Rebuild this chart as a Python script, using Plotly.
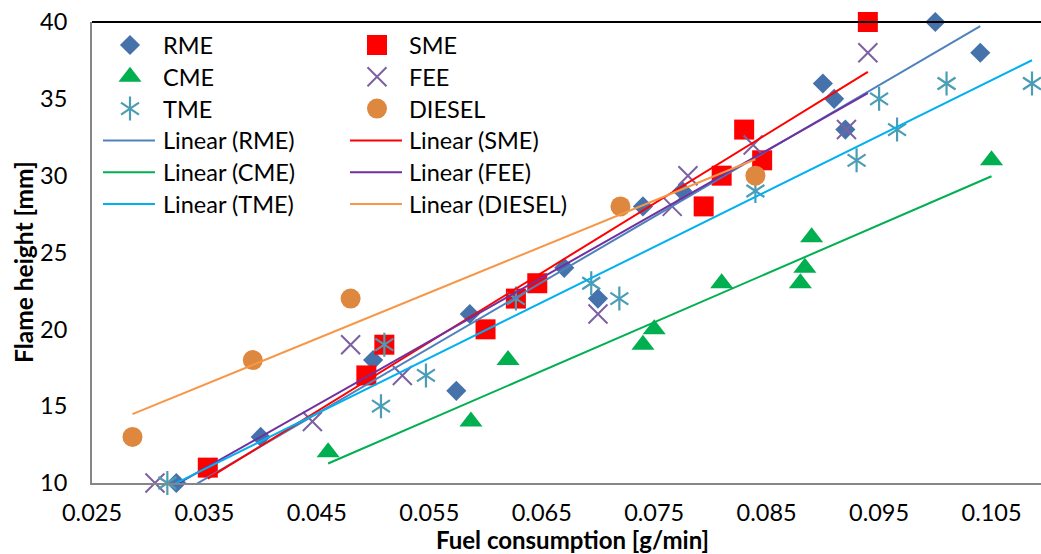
import numpy as np
import plotly.graph_objects as go

# ---- data: fuel consumption [g/min] vs flame height [mm] ----
rme_x = [0.0325, 0.040, 0.050, 0.0574, 0.0586, 0.067, 0.070, 0.074, 0.0775, 0.090, 0.091, 0.092, 0.100, 0.104]
rme_y = [10, 13, 18, 16, 21, 24, 22, 28, 29, 36, 35, 33, 40, 38]

sme_x = [0.0353, 0.0494, 0.0510, 0.060, 0.0627, 0.0646, 0.0794, 0.081, 0.083, 0.0846, 0.094]
sme_y = [11, 17, 19, 20, 22, 23, 28, 30, 33, 31, 40]

cme_x = [0.046, 0.0587, 0.062, 0.074, 0.075, 0.081, 0.088, 0.0884, 0.089, 0.105]
cme_y = [12, 14, 18, 19, 20, 23, 23, 24, 26, 31]

fee_x = [0.0306, 0.0446, 0.048, 0.0526, 0.070, 0.0766, 0.078, 0.0838, 0.0921, 0.094]
fee_y = [10, 14, 19, 17, 21, 28, 30, 32, 33, 38]

tme_x = [0.0317, 0.0507, 0.051, 0.0547, 0.0627, 0.0694, 0.0719, 0.084, 0.093, 0.095, 0.0966, 0.101, 0.1086]
tme_y = [10, 15, 19, 17, 22, 23, 22, 29, 31, 35, 33, 36, 36]

diesel_x = [0.0286, 0.0393, 0.048, 0.072, 0.084]
diesel_y = [13, 18, 22, 28, 30]

x_ticks = [0.025, 0.035, 0.045, 0.055, 0.065, 0.075, 0.085, 0.095, 0.105]
y_ticks = [10, 15, 20, 25, 30, 35, 40]
x_range = [0.025, 0.1094]
y_range = [10, 40]

# ---- page geometry (px) ----
W, H = 1041, 554
ML, MR, MT, MB = 92, 0, 22, 71
PW, PH = W - ML - MR, H - MT - MB

FONT = "Lato"
FS = 23.5


def paper_x(px):
    return (px - ML) / PW


def paper_y(py):
    return (H - MB - py) / PH


STAR = ["y-up-open", "y-down-open"]

series = [
    dict(name="RME", x=rme_x, y=rme_y, symbol="diamond", size=15.5,
         color="#4672AB", lw=0, trend="#4F81BD"),
    dict(name="SME", x=sme_x, y=sme_y, symbol="square", size=20,
         color="#FF0000", lw=0, trend="#FF0000"),
    dict(name="CME", x=cme_x, y=cme_y, symbol="triangle-up", size=20,
         color="#00B050", lw=0, trend="#00B050"),
    dict(name="FEE", x=fee_x, y=fee_y, symbol="x-thin-open", size=19,
         color="#7D60A0", lw=2, trend="#7030A0"),
    dict(name="TME", x=tme_x, y=tme_y, symbol=STAR, size=15,
         color="#4A9DB5", lw=2.2, trend="#00B0F0"),
    dict(name="DIESEL", x=diesel_x, y=diesel_y, symbol="circle", size=20,
         color="#DD873F", lw=0, trend="#F79646"),
]


def marker_trace(s, xs, ys, xaxis="x", yaxis="y"):
    """Scatter markers; the star symbol is built from two overlaid glyphs."""
    xs, ys = list(xs), list(ys)
    if isinstance(s["symbol"], list):
        sym = [g for g in s["symbol"] for _ in xs]
        xs = xs * len(s["symbol"])
        ys = ys * len(s["symbol"])
    else:
        sym = s["symbol"]
    return go.Scatter(
        x=xs, y=ys, mode="markers", name=s["name"], showlegend=False,
        xaxis=xaxis, yaxis=yaxis, cliponaxis=False, hoverinfo="skip",
        marker=dict(symbol=sym, size=s["size"], color=s["color"],
                    line=dict(color=s["color"], width=s["lw"])),
    )


fig = go.Figure()

# scatter points
for s in series:
    fig.add_trace(marker_trace(s, s["x"], s["y"]))

# least-squares linear trendlines over each series' x span
for s in series:
    coef = np.polyfit(s["x"], s["y"], 1)
    xs = np.array([min(s["x"]), max(s["x"])])
    fig.add_trace(go.Scatter(
        x=xs, y=np.polyval(coef, xs), mode="lines", showlegend=False,
        name="Linear (%s)" % s["name"], hoverinfo="skip",
        line=dict(color=s["trend"], width=2),
    ))

# ---- legend (two columns, row-major) drawn on a pixel-unit overlay axis ----
col_marker = [130, 377]
col_line = [(103, 155), (350, 402)]
col_text = [161, 407]
row0, row_gap = 45, 31.8

shapes = []
annotations = []
for i, s in enumerate(series):
    r, c = divmod(i, 2)
    y = row0 + r * row_gap
    fig.add_trace(marker_trace(s, [col_marker[c]], [y], "x2", "y2"))
    annotations.append(dict(x=paper_x(col_text[c]), y=paper_y(y), xref="paper", yref="paper",
                            text=s["name"], showarrow=False, xanchor="left", yanchor="middle",
                            font=dict(family=FONT, size=FS, color="#000000")))
for i, s in enumerate(series):
    r, c = divmod(i + len(series), 2)
    y = row0 + r * row_gap
    x0, x1 = col_line[c]
    shapes.append(dict(type="line", xref="x2", yref="y2", x0=x0, x1=x1, y0=y, y1=y,
                       line=dict(color=s["trend"], width=2)))
    annotations.append(dict(x=paper_x(col_text[c]), y=paper_y(y), xref="paper", yref="paper",
                            text="Linear (%s)" % s["name"], showarrow=False,
                            xanchor="left", yanchor="middle",
                            font=dict(family=FONT, size=FS, color="#000000")))

# top border of the plot area
shapes.append(dict(type="line", xref="paper", yref="paper", x0=0, x1=1, y0=1, y1=1,
                   line=dict(color="#000000", width=2)))

# axis titles
annotations.append(dict(x=paper_x(572), y=paper_y(539), xref="paper", yref="paper",
                        text="<b>Fuel consumption [g/min]</b>", showarrow=False,
                        xanchor="center", yanchor="middle",
                        font=dict(family=FONT, size=24, color="#000000")))
annotations.append(dict(x=paper_x(23), y=paper_y(262), xref="paper", yref="paper",
                        text="<b>Flame height [mm]</b>", showarrow=False, textangle=-90,
                        xanchor="center", yanchor="middle",
                        font=dict(family=FONT, size=24.5, color="#000000")))

axis_font = dict(family=FONT, size=FS, color="#000000")
fig.update_layout(
    width=W, height=H,
    margin=dict(l=ML, r=MR, t=MT, b=MB, pad=0),
    paper_bgcolor="#FFFFFF", plot_bgcolor="#FFFFFF",
    showlegend=False,
    shapes=shapes, annotations=annotations,
    xaxis=dict(range=x_range, tickvals=x_ticks, ticktext=["%.3f" % v for v in x_ticks],
               showgrid=False, zeroline=False, showline=True, linecolor="#868686",
               linewidth=2, ticks="", tickfont=axis_font, ticklabelstandoff=8),
    yaxis=dict(range=y_range, tickvals=y_ticks, showgrid=False, zeroline=False,
               showline=True, linecolor="#868686", linewidth=2, ticks="",
               tickfont=axis_font, ticklabelstandoff=18),
    xaxis2=dict(range=[ML, W - MR], overlaying="x", visible=False, fixedrange=True),
    yaxis2=dict(range=[H - MB, MT], overlaying="y", visible=False, fixedrange=True),
)

fig.write_html("out.html")
